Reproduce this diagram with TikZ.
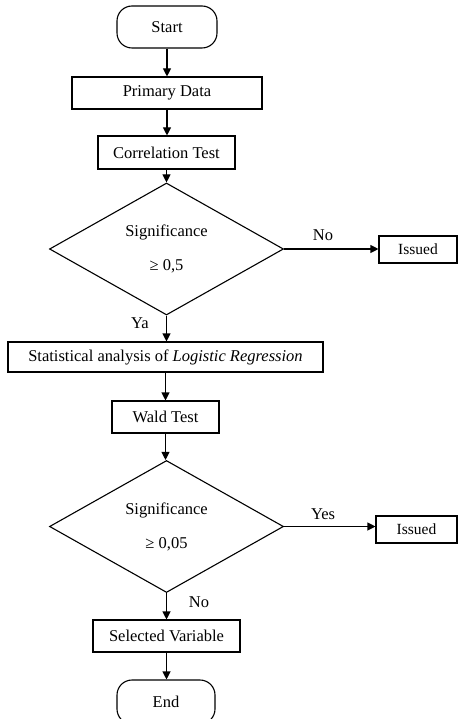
\documentclass[tikz,border=0pt]{standalone}
\usepackage{fontspec}
\setmainfont{Liberation Serif}
\usetikzlibrary{shapes.geometric,arrows.meta}
\begin{document}
\begin{tikzpicture}[x=1pt,y=-1pt,
  every node/.style={font=\fontsize{16.5}{19}\selectfont},
  box/.style={draw,line width=1.1pt,rectangle,inner sep=0pt},
  term/.style={draw,line width=1.1pt,rectangle,rounded corners=15pt,inner sep=0pt},
  decision/.style={draw,line width=1.1pt,diamond,inner sep=0pt,minimum width=234pt,minimum height=132pt,align=center},
  smallbox/.style={box,font=\fontsize{15.5}{18}\selectfont},
  lbl/.style={inner sep=0pt},
  arr/.style={line width=1.1pt,-{Triangle[length=8pt,width=8pt]}}]
\useasboundingbox (0,0) rectangle (458,719);
\node[term,minimum width=100pt,minimum height=42pt] (start) at (167,27) {Start};
\node[box,minimum width=190pt,minimum height=32pt] (primary) at (167,93) {Primary Data};
\node[box,minimum width=137pt,minimum height=33pt] (corr) at (166.5,152.5) {Correlation Test};
\node[decision] (d1) at (166.5,249) {Significance\\[15pt]≥ 0,5};
\node[smallbox,minimum width=78pt,minimum height=27pt] (iss1) at (418,249.5) {Issued};
\node[box,minimum width=315pt,minimum height=30pt] (stat) at (165.5,357) {Statistical analysis of \textit{Logistic Regression}};
\node[box,minimum width=107pt,minimum height=32pt] (wald) at (165.5,417) {Wald Test};
\node[decision] (d2) at (166.5,526.5) {Significance\\[15pt]≥ 0,05};
\node[smallbox,minimum width=81pt,minimum height=27pt] (iss2) at (416.5,529.5) {Issued};
\node[box,minimum width=147pt,minimum height=32pt] (sel) at (166.5,636) {Selected Variable};
\node[term,minimum width=98pt,minimum height=44pt] (end) at (166,702) {End};
\node[lbl] (no1) at (323,235) {No};
\node[lbl] (ya) at (140,323) {Ya};
\node[lbl] (yes) at (323,514) {Yes};
\node[lbl] (no2) at (199,602) {No};
\coordinate (e1) at (iss1.west |- d1.east);
\coordinate (e2) at (iss2.west |- d2.east);
\draw[arr] (start) -- (start |- primary.north);
\draw[arr] (primary) -- (primary |- corr.north);
\draw[arr] (corr) -- (d1.north);
\draw[arr] (d1.east) -- (e1);
\draw[arr] (d1.south) -- (d1.south |- stat.north);
\draw[arr] (stat) -- (stat |- wald.north);
\draw[arr] (wald) -- (wald |- d2.north);
\draw[arr] (d2.east) -- (e2);
\draw[arr] (d2.south) -- (d2.south |- sel.north);
\draw[arr] (sel) -- (sel |- end.north);
\end{tikzpicture}
\end{document}
